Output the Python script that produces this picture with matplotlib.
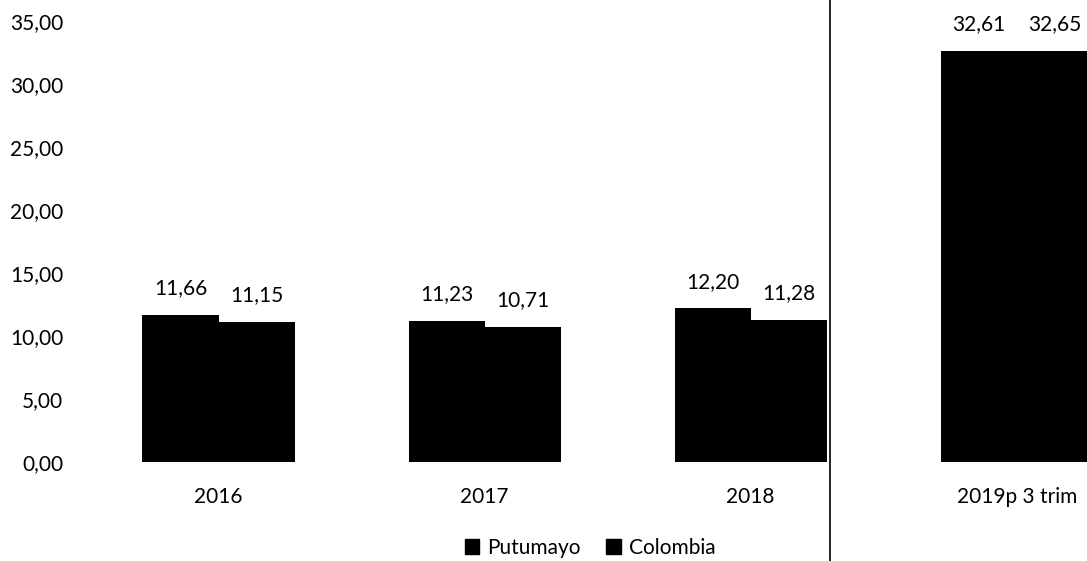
import matplotlib.pyplot as plt
from matplotlib.lines import Line2D
from matplotlib.patches import Patch
import numpy as np

plt.rcParams['font.family'] = ['Lato', 'DejaVu Sans']

# Data
years = ['2016', '2017', '2018', '2019p 3 trim']
putumayo = [11.66, 11.23, 12.20, 32.61]
colombia = [11.15, 10.71, 11.28, 32.65]
yticks = [0, 5, 10, 15, 20, 25, 30, 35]

def fmt(v):
    return f"{v:.2f}".replace('.', ',')

fig = plt.figure(figsize=(10.87, 5.61), dpi=100)
# axes runs past the right edge, the last group is cut off like in the source
ax = fig.add_axes([0.0787, 0.1765, 0.979, 0.786])

x = np.arange(len(years))
w = 0.286
b1 = ax.bar(x - w / 2, putumayo, w, color='black', label='Putumayo')
b2 = ax.bar(x + w / 2, colombia, w, color='black', label='Colombia')

for bars, vals in ((b1, putumayo), (b2, colombia)):
    for rect, v in zip(bars, vals):
        ax.annotate(fmt(v), (rect.get_x() + rect.get_width() / 2, v),
                    xytext=(0, 12), textcoords='offset points',
                    ha='center', va='bottom', fontsize=15)

ax.set_xlim(-0.5, len(years) - 0.5)
ax.set_ylim(0, 35)
ax.set_yticks(yticks)
ax.set_yticklabels([fmt(t) for t in yticks])
ax.set_xticks(x)
ax.set_xticklabels(years)
ax.tick_params(axis='both', length=0, labelsize=15)
ax.tick_params(axis='x', pad=18)
ax.tick_params(axis='y', pad=16)
for s in ax.spines.values():
    s.set_visible(False)

# separator line from the scanned page
fig.add_artist(Line2D([830 / 1087, 830 / 1087], [0, 1], color='black', lw=1.2,
                      transform=fig.transFigure))

handles = [Patch(color='black', label='Putumayo'), Patch(color='black', label='Colombia')]
fig.legend(handles=handles, loc='center', bbox_to_anchor=(590 / 1087, 1 - 548 / 561),
           ncol=2, frameon=False, fontsize=15, handlelength=0.7, handleheight=0.7,
           handletextpad=0.4, columnspacing=1.2)

plt.savefig('out.png', dpi=100)
plt.close()
